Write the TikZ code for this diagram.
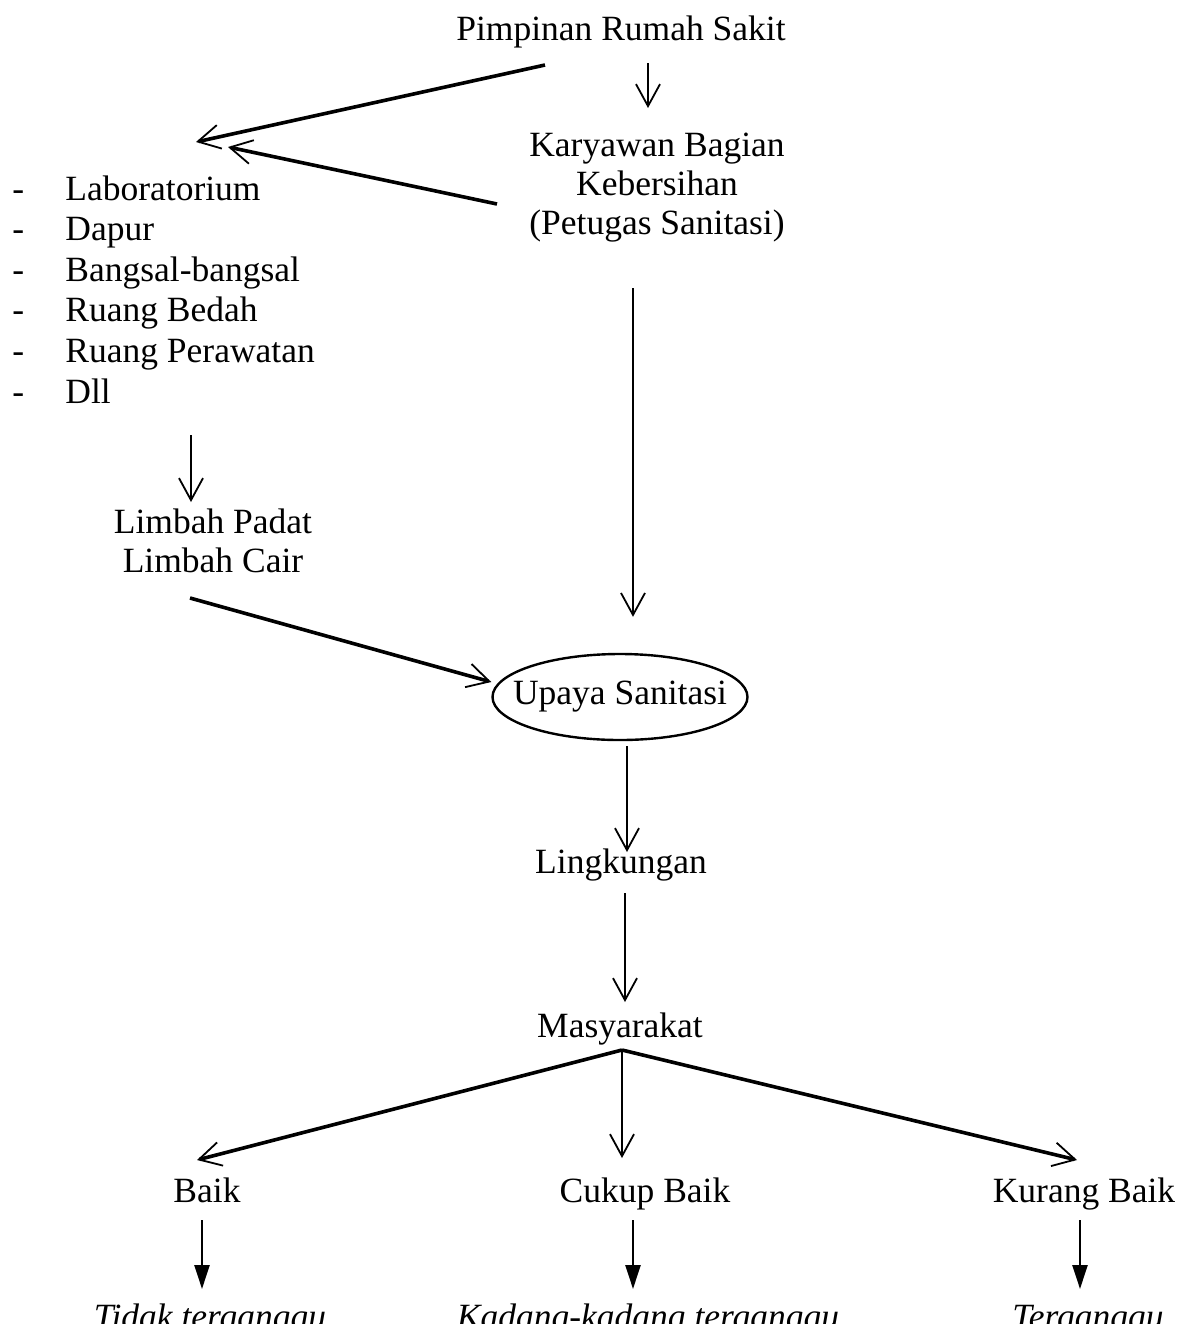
\documentclass[tikz,border=0pt]{standalone}
\usepackage{fontspec}
\setmainfont{Liberation Serif}
\usetikzlibrary{arrows.meta,shapes.geometric}

\tikzset{
  lbl/.style={inner sep=0pt, font=\fontsize{17.75pt}{19.5pt}\selectfont},
  openarr/.style={-{Straight Barb[length=11pt,width=12pt,line width=0.9pt]}, line width=1.2pt},
  slantarr/.style={openarr, line width=1.8pt},
  fillarr/.style={-{Triangle[length=12pt,width=7.5pt]}, line width=1.2pt},
}

\begin{document}
\begin{tikzpicture}[x=0.5pt,y=-0.5pt]
        \useasboundingbox (0,0) rectangle (1179,1324);
        \clip (0,0) rectangle (1179,1324);

        \node[lbl, anchor=base](PRS) at (621,40){Pimpinan Rumah Sakit};
        \node[lbl, align=center](KAR) at (657,188){Karyawan Bagian\\Kebersihan\\(Petugas Sanitasi)};

        % sumber limbah
        \foreach \txt [count=\i] in {Laboratorium, Dapur, Bangsal-bangsal, Ruang Bedah, Ruang Perawatan, Dll}{
            \node[lbl, anchor=base west](D\i) at (12,{200+40.6*(\i-1)}){-};
            \node[lbl, anchor=base west](L\i) at (65,{200+40.6*(\i-1)}){\txt};
        }

        \node[lbl, align=center](LIM) at (213,541){Limbah Padat\\Limbah Cair};
        \node[lbl, draw, ellipse, line width=1.2pt, inner xsep=-8.5pt, inner ysep=0pt, minimum width=127.5pt, minimum height=43pt](UPS) at (620,697){Upaya Sanitasi};
        \node[lbl, anchor=base](LING) at (621,873){Lingkungan};
        \node[lbl, anchor=base](MAS) at (620,1037){Masyarakat};

        \node[lbl, anchor=base](BAIK) at (207,1202){Baik};
        \node[lbl, anchor=base](CUK) at (645,1202){Cukup Baik};
        \node[lbl, anchor=base](KUR) at (1084,1202){Kurang Baik};

        \node[lbl, anchor=base, font=\fontsize{17.75pt}{19.5pt}\selectfont\itshape](TID) at (210,1328){Tidak terganggu};
        \node[lbl, anchor=base, font=\fontsize{17.75pt}{19.5pt}\selectfont\itshape](KAD) at (648,1328){Kadang-kadang terganggu};
        \node[lbl, anchor=base, font=\fontsize{17.75pt}{19.5pt}\selectfont\itshape](TER) at (1088,1328){Terganggu};

        \draw[openarr] ([shift={(27,23)}]PRS.base) -- ([shift={(-9,-80)}]KAR.center);
        \draw[slantarr] ([shift={(-76,25)}]PRS.base) -- ([shift={(131,-58)}]L1.base west);
        \draw[slantarr] ([shift={(-160,16)}]KAR.center) -- ([shift={(163,-53)}]L1.base west);

        \draw[openarr] ([shift={(126,32)}]L6.base west) -- ([shift={(-22,-39)}]LIM.center);
        \draw[slantarr] ([shift={(-23,57)}]LIM.center) -- ([shift={(0,-15)}]UPS.west);
        \draw[openarr] ([shift={(-24,100)}]KAR.center) -- ([shift={(13,-36)}]UPS.north);

        \draw[openarr] ([shift={(7,5)}]UPS.south) -- ([shift={(6,-21)}]LING.base);
        \draw[openarr] ([shift={(4,20)}]LING.base) -- ([shift={(5,-35)}]MAS.base);

        \draw[slantarr] ([shift={(2,13)}]MAS.base) -- ([shift={(-10,-42)}]BAIK.base);
        \draw[openarr] ([shift={(2,13)}]MAS.base) -- ([shift={(-23,-44)}]CUK.base);
        \draw[slantarr] ([shift={(2,13)}]MAS.base) -- ([shift={(-7,-42)}]KUR.base);

        \draw[fillarr] ([shift={(-5,18)}]BAIK.base) -- ([shift={(-8,-39)}]TID.base);
        \draw[fillarr] ([shift={(-12,18)}]CUK.base) -- ([shift={(-15,-39)}]KAD.base);
        \draw[fillarr] ([shift={(-4,18)}]KUR.base) -- ([shift={(-8,-39)}]TER.base);
    \end{tikzpicture}
\end{document}
